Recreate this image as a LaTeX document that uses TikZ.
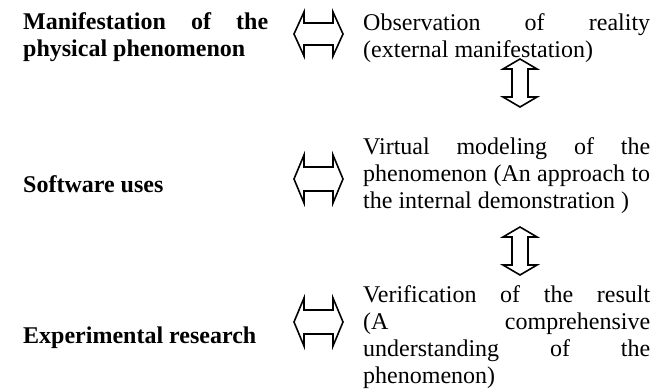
\documentclass[tikz,border=0pt]{standalone}
\usepackage{fontspec}
\setmainfont{Liberation Serif}
\begin{document}
\begin{tikzpicture}[x=1pt,y=-1pt,
  blockarrow/.style={draw=black,line width=1.6pt,line join=miter,fill=white},
  lefttext/.style={anchor=base west,inner sep=0pt,text width=245pt,align=justify,font=\fontsize{24}{27}\selectfont\bfseries},
  righttext/.style={anchor=base west,inner sep=0pt,text width=287pt,align=justify,font=\fontsize{24}{27}\selectfont},
  pics/harr/.style={code={
    \draw[blockarrow] (-24.5,0) -- (-14.5,-#1) -- (-14.5,-#1/2) -- (14.5,-#1/2) -- (14.5,-#1) -- (24.5,0)
      -- (14.5,#1) -- (14.5,#1/2) -- (-14.5,#1/2) -- (-14.5,#1) -- cycle;}},
  pics/varr/.style={code={
    \draw[blockarrow] (0,-24) -- (17,-14) -- (8,-14) -- (8,14) -- (17,14) -- (0,24)
      -- (-17,14) -- (-8,14) -- (-8,-14) -- (-17,-14) -- cycle;}}
]
\useasboundingbox (0,0) rectangle (669,390);
\fill[white] (0,0) rectangle (669,390);

% left column
\node[lefttext] (l1) at (23,30) {Manifestation of the\linebreak physical phenomenon};
\node[lefttext] (l2) at (23,193) {Software uses};
\node[lefttext] (l3) at (23,343) {Experimental research};

% right column
\node[righttext] (r1) at (363,31) {Observation of reality\linebreak (external manifestation)};
\node[righttext] (r2) at (363,155) {Virtual modeling of the\linebreak phenomenon (An approach to\linebreak the internal demonstration )};
\node[righttext] (r3) at (363,302) {Verification of the result\linebreak (A comprehensive\linebreak understanding of the\linebreak phenomenon)};

% horizontal double arrows
\pic (h1) at (318.5,34) {harr=22};
\pic (h2) at (318.5,179) {harr=24};
\pic (h3) at (318.5,322) {harr=24};

% vertical double arrows
\pic (v1) at (520,83) {varr};
\pic (v2) at (520,251) {varr};
\end{tikzpicture}
\end{document}
